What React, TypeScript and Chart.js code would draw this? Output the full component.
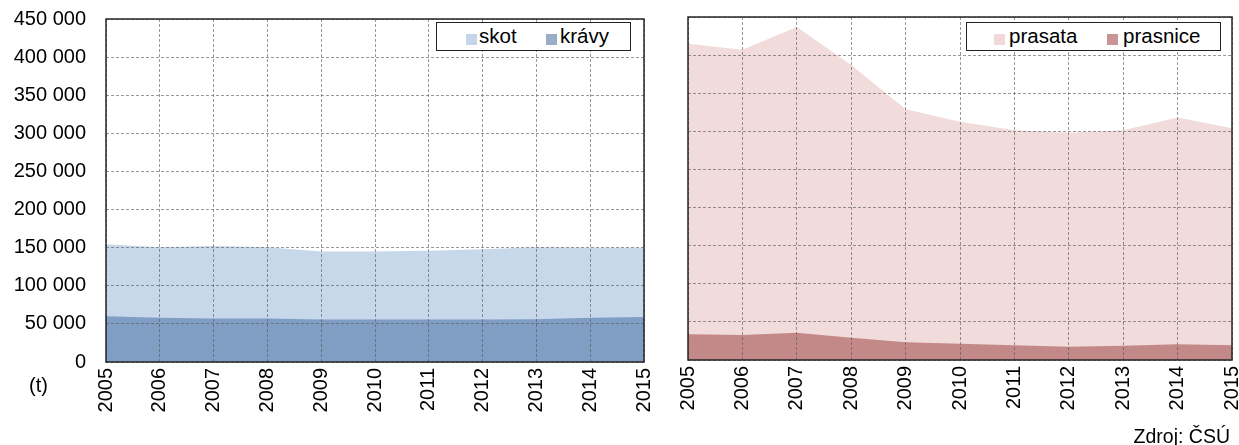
import React, { useEffect, useRef } from "react";
import { Chart, registerables } from "chart.js";

Chart.register(...registerables);

const years = ["2005", "2006", "2007", "2008", "2009", "2010", "2011", "2012", "2013", "2014", "2015"];
const skot = [154500, 150600, 152300, 150600, 144900, 144900, 146000, 148000, 150600, 150000, 150000];
const kravy = [60000, 58000, 57000, 57000, 55700, 55700, 55700, 55700, 56000, 58000, 59000];
const prasata = [415000, 407000, 437000, 387000, 329000, 312500, 301500, 298000, 301500, 318000, 304000];
const prasnice = [33700, 32800, 35800, 29300, 23200, 21400, 19200, 17500, 18800, 20500, 19200];
const yMin = 0;
const yMax = 450000;
const yStep = 50000;

const FONT = "'Liberation Sans', Arial, sans-serif";
const FS = 20;
const LFS = 20.5;

const fmt = (v: number) => String(v).replace(/\B(?=(\d{3})+(?!\d))/g, " ");

const borderPlugin = {
  id: "plotBorder",
  afterDraw(chart: any) {
    const { ctx, chartArea } = chart;
    ctx.save();
    ctx.strokeStyle = "#262626";
    ctx.lineWidth = 1.5;
    ctx.setLineDash([]);
    ctx.strokeRect(chartArea.left, chartArea.top, chartArea.right - chartArea.left, chartArea.bottom - chartArea.top);
    ctx.restore();
  },
};

type PanelProps = {
  width: number;
  height: number;
  left: number;
  padTop: number;
  padRight: number;
  yWidth: number;
  xHeight: number;
  showYTicks: boolean;
  back: { label: string; data: number[]; color: string };
  front: { label: string; data: number[]; color: string };
};

function Panel(p: PanelProps) {
  const ref = useRef<HTMLCanvasElement | null>(null);
  useEffect(() => {
    if (!ref.current) return;
    const grid = {
      display: true,
      color: "rgba(85,85,85,0.6)",
      lineWidth: 1,
      drawTicks: false,
      z: 1,
    };
    const chart = new Chart(ref.current, {
      type: "line",
      data: {
        labels: years,
        datasets: [
          {
            label: p.front.label,
            data: p.front.data,
            backgroundColor: p.front.color,
            borderColor: "rgba(0,0,0,0)",
            borderWidth: 0,
            pointRadius: 0,
            fill: "origin",
            tension: 0,
            order: 1,
          },
          {
            label: p.back.label,
            data: p.back.data,
            backgroundColor: p.back.color,
            borderColor: "rgba(0,0,0,0)",
            borderWidth: 0,
            pointRadius: 0,
            fill: "origin",
            tension: 0,
            order: 2,
          },
        ],
      },
      options: {
        animation: false,
        responsive: false,
        maintainAspectRatio: false,
        events: [],
        layout: { padding: { top: p.padTop, right: p.padRight, left: 0, bottom: 0 } },
        plugins: { legend: { display: false }, tooltip: { enabled: false } },
        scales: {
          x: {
            type: "category",
            offset: false,
            grid: grid as any,
            border: { display: false, dash: [3, 2] },
            ticks: {
              minRotation: 90,
              maxRotation: 90,
              autoSkip: false,
              padding: 6,
              color: "#000",
              font: { family: FONT, size: FS },
            },
            afterFit: (s: any) => {
              s.height = p.xHeight;
              s.paddingLeft = 0;
              s.paddingRight = 0;
            },
          },
          y: {
            min: yMin,
            max: yMax,
            grid: grid as any,
            border: { display: false, dash: [3, 2] },
            ticks: {
              display: p.showYTicks,
              stepSize: yStep,
              padding: 20,
              color: "#000",
              font: { family: FONT, size: FS },
              callback: (v: any) => fmt(Number(v)),
            },
            afterFit: (s: any) => {
              s.width = p.yWidth;
              s.paddingTop = 0;
              s.paddingBottom = 0;
            },
          },
        },
      },
      plugins: [borderPlugin],
    } as any);
    return () => chart.destroy();
  }, []);
  return (
    <canvas
      ref={ref}
      width={p.width}
      height={p.height}
      style={{ position: "absolute", left: p.left, top: 0, width: p.width, height: p.height }}
    />
  );
}

function LegendBox(props: {
  left: number;
  width: number;
  items: { label: string; color: string; sx: number; tx: number }[];
}) {
  return (
    <div
      style={{
        position: "absolute",
        left: props.left,
        top: 22,
        width: props.width,
        height: 29,
        boxSizing: "border-box",
        border: "1.5px solid #222",
        background: "#fff",
      }}
    >
      {props.items.map((it) => (
        <React.Fragment key={it.label}>
          <div
            style={{
              position: "absolute",
              left: it.sx - props.left,
              top: 10.5,
              width: 11,
              height: 11,
              background: it.color,
            }}
          />
          <div
            style={{
              position: "absolute",
              left: it.tx - props.left,
              top: 1.5,
              fontFamily: FONT,
              fontSize: LFS,
              lineHeight: "22px",
              color: "#000",
              whiteSpace: "nowrap",
            }}
          >
            {it.label}
          </div>
        </React.Fragment>
      ))}
    </div>
  );
}

export default function App() {
  return (
    <div style={{ position: "absolute", left: 0, top: 0, width: 1239, height: 445, background: "#fff", overflow: "hidden" }}>
      <Panel
        width={650}
        height={445}
        left={0}
        padTop={19}
        padRight={6}
        yWidth={106}
        xHeight={83}
        showYTicks={true}
        back={{ label: "skot", data: skot, color: "#c8d8eb" }}
        front={{ label: "krávy", data: kravy, color: "#809dc3" }}
      />
      <Panel
        width={589}
        height={445}
        left={650}
        padTop={17}
        padRight={7}
        yWidth={38}
        xHeight={85}
        showYTicks={false}
        back={{ label: "prasata", data: prasata, color: "#f1dbdb" }}
        front={{ label: "prasnice", data: prasnice, color: "#c38888" }}
      />
      <LegendBox
        left={436}
        width={195}
        items={[
          { label: "skot", color: "#c6d6ea", sx: 465, tx: 478 },
          { label: "krávy", color: "#9aadc9", sx: 545, tx: 559 },
        ]}
      />
      <LegendBox
        left={966}
        width={255}
        items={[
          { label: "prasata", color: "#f2d8d9", sx: 993, tx: 1008 },
          { label: "prasnice", color: "#c99496", sx: 1106, tx: 1122 },
        ]}
      />
      <div
        style={{
          position: "absolute",
          left: 29,
          top: 373,
          fontFamily: FONT,
          fontSize: FS,
          lineHeight: "24px",
          color: "#000",
        }}
      >
        (t)
      </div>
      <div
        style={{
          position: "absolute",
          right: 9,
          top: 425,
          fontFamily: FONT,
          fontSize: 19.5,
          lineHeight: "22px",
          color: "#000",
          whiteSpace: "nowrap",
        }}
      >
        Zdroj: ČSÚ
      </div>
    </div>
  );
}
